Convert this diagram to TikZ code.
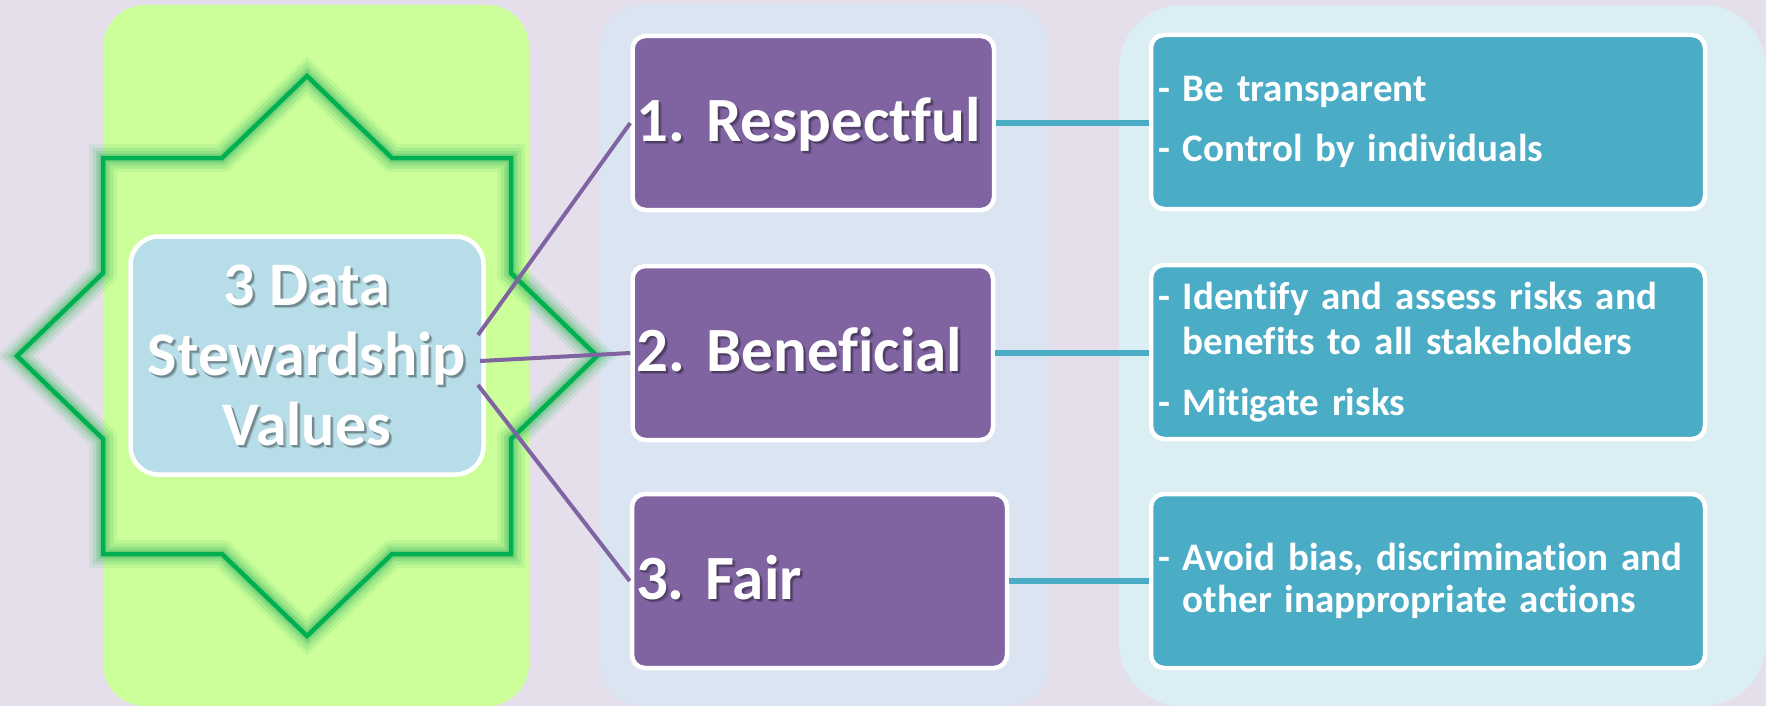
\documentclass[tikz,border=0pt]{standalone}
\usepackage{fontspec}
\setmainfont{Carlito}[Ligatures={NoCommon,NoDiscretionary,NoContextual}]
\frenchspacing
\definecolor{bg}{HTML}{E5DFEC}
\definecolor{greenpanel}{HTML}{CCFF99}
\definecolor{midpanel}{HTML}{DBE5F1}
\definecolor{rightpanel}{HTML}{DAEEF3}
\definecolor{purp}{HTML}{8064A2}
\definecolor{tealbox}{HTML}{4BACC6}
\definecolor{centerbox}{HTML}{B7DEE8}
\definecolor{stargreen}{HTML}{00B050}
\definecolor{glowgreen}{HTML}{4CBF6C}
\colorlet{cshadow}{centerbox!62!black}
\colorlet{cshadowlt}{centerbox!82!black}
\colorlet{pshadow}{purp!62!black}
\colorlet{pshadowlt}{purp!82!black}
\newcommand\shadowed[3]{\leavevmode\rlap{\hspace{3pt}\raisebox{-3pt}[0pt][0pt]{\textcolor{#2}{#3}}}\rlap{\hspace{1.8pt}\raisebox{-1.8pt}[0pt][0pt]{\textcolor{#1}{#3}}}#3}
\begin{document}
\begin{tikzpicture}[x=1pt,y=-1pt,
  panel/.style={rounded corners=42pt},
  cbox/.style={draw=white, line width=4.5pt, fill=centerbox, rounded corners=28pt,
    minimum width=353pt, minimum height=238pt, inner sep=0pt, align=center, text=white,
    font=\bfseries\fontsize{62}{70}\selectfont},
  pbox/.style={draw=white, line width=4.5pt, fill=purp, rounded corners=13pt,
    inner xsep=4pt, inner ysep=0pt, minimum height=174pt, text=white, align=left,
    text height=37pt, text depth=0pt, font=\bfseries\fontsize{63}{70}\selectfont},
  tbox/.style={draw=white, line width=4.5pt, fill=tealbox, rounded corners=13pt,
    inner xsep=7pt, inner ysep=0pt, minimum height=174pt, text width=540pt, text=white,
    align=left, font=\bfseries\fontsize{39}{45}\selectfont},
  pline/.style={draw=purp, line width=4pt},
  tline/.style={draw=tealbox, line width=5.5pt},
  starline/.style={line join=miter, miter limit=20}
]
\useasboundingbox (0,0) rectangle (1766,706);
\clip (0,0) rectangle (1766,706);
\fill[bg] (0,0) rectangle (1766,706);
% panels
\fill[greenpanel, panel] (103,5) rectangle (529,706);
\fill[midpanel, panel] (600,5) rectangle (1050,706);
\fill[rightpanel, rounded corners=63pt] (1119,5) rectangle (1766,706);
% star
\def\starpath{(307,76) -- (392,158) -- (511,158) -- (511,273) -- (597,356) -- (511,439) -- (511,554) -- (392,554) -- (307,636) -- (222,554) -- (103,554) -- (103,439) -- (17,356) -- (103,273) -- (103,158) -- (222,158) -- cycle}
\draw[starline, glowgreen, opacity=0.12, line width=28pt] \starpath;
\draw[starline, glowgreen, opacity=0.18, line width=21pt] \starpath;
\draw[starline, glowgreen, opacity=0.25, line width=14pt] \starpath;
\draw[starline, glowgreen, opacity=0.35, line width=9pt] \starpath;
\draw[starline, stargreen, line width=4.5pt] \starpath;
% center box
\node[cbox] (ctr) at (307,355.5) {\shadowed{cshadow}{cshadowlt}{3 Data}\\\shadowed{cshadow}{cshadowlt}{Stewardship}\\\shadowed{cshadow}{cshadowlt}{Values}};
% purple boxes
\node[pbox, minimum width=361.5pt, text width=353.5pt] (r1) at (813.25,123) {\shadowed{pshadow}{pshadowlt}{1. Respectful}};
\node[pbox, minimum width=360.5pt, text width=352.5pt] (r2) at (812.75,353) {\shadowed{pshadow}{pshadowlt}{2. Beneficial}};
\node[pbox, minimum width=375pt, text width=367pt] (r3) at (819.5,581) {\shadowed{pshadow}{pshadowlt}{3. Fair}};
% teal boxes
\node[tbox, minimum width=553.5pt] (t1) at (1428,122) {- Be transparent\\[15pt]- Control by individuals};
\node[tbox, minimum width=553.5pt] (t2) at (1428,352) {- Identify and assess risks and\\\hphantom{- }benefits to all stakeholders\\[16pt]- Mitigate risks};
\node[tbox, minimum width=553.5pt] (t3) at (1428,581) {- Avoid bias, discrimination and\\[-3pt]\hphantom{- }other inappropriate actions};
% purple connectors
\coordinate (c1) at (478,335);
\coordinate (c2) at (480,361);
\coordinate (c3) at (478,385);
\draw[pline] (c1) -- (r1.west);
\draw[pline] (c2) -- (r2.west);
\draw[pline] (c3) -- (r3.west);
% teal connectors
\draw[tline] (r1.east) -- (r1.east -| t1.west);
\draw[tline] (r2.east) -- (r2.east -| t2.west);
\draw[tline] (r3.east) -- (r3.east -| t3.west);
\end{tikzpicture}
\end{document}
